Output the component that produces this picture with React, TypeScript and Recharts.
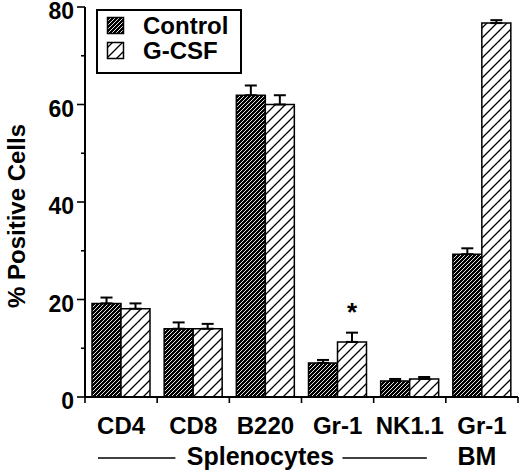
import React from 'react';
import { BarChart, Bar, XAxis, YAxis, ErrorBar, Legend, LabelList } from 'recharts';

if (typeof document !== 'undefined') {
  document.body.style.margin = '0';
}

const categories = ['CD4', 'CD8', 'B220', 'Gr-1', 'NK1.1', 'Gr-1'];
const controlValues = [19.2, 14.0, 61.9, 7.0, 3.3, 29.3];
const controlErrors = [1.2, 1.3, 2.0, 0.6, 0.4, 1.2];
const gcsfValues = [18.1, 14.0, 60.0, 11.3, 3.7, 76.7];
const gcsfErrors = [1.1, 1.0, 1.9, 1.9, 0.4, 0.6];
const gcsfMarks = ['', '', '', '*', '', ''];
const yTicks = [0, 10, 20, 30, 40, 50, 60, 70, 80];
const yLabelTicks = [0, 20, 40, 60, 80];
const groups = [
  { label: 'Splenocytes', start: 0, end: 4 },
  { label: 'BM', start: 5, end: 5 },
];
const seriesNames = ['Control', 'G-CSF'];

const data = categories.map((c, i) => ({
  key: `${c}-${i}`,
  cat: c,
  control: controlValues[i],
  controlErr: [0, controlErrors[i]],
  gcsf: gcsfValues[i],
  gcsfErr: [0, gcsfErrors[i]],
  mark: gcsfMarks[i],
}));

const FONT = '"Liberation Sans", Arial, Helvetica, sans-serif';

const W = 520;
const H = 474;

const YTick = (props: any) => {
  const { x, y, payload } = props;
  const v = payload.value;
  const major = yLabelTicks.includes(v);
  return (
    <g>
      <line x1={x - (major ? 8 : 4)} x2={x} y1={y} y2={y} stroke="#000" strokeWidth={1.6} />
      {major && (
        <text x={x - 11} y={y + 12} textAnchor="end" fontFamily={FONT} fontWeight="bold" fontSize={23} fill="#000">
          {v}
        </text>
      )}
    </g>
  );
};

const XTick = (props: any) => {
  const { x, y, index, payload } = props;
  const band = (payload && payload.offset ? payload.offset * 2 : 72.2);
  const n = categories.length;
  const elems: any[] = [];
  elems.push(
    <line key="tl" x1={x - band / 2} x2={x - band / 2} y1={y} y2={y + 6} stroke="#000" strokeWidth={1.6} />
  );
  if (index === n - 1) {
    elems.push(
      <line key="tr" x1={x + band / 2} x2={x + band / 2} y1={y} y2={y + 6} stroke="#000" strokeWidth={1.6} />
    );
  }
  elems.push(
    <text key="lbl" x={x} y={y + 37} textAnchor="middle" fontFamily={FONT} fontWeight="bold" fontSize={24} fill="#000">
      {categories[index]}
    </text>
  );
  groups.forEach((g, gi) => {
    const mid = Math.floor((g.start + g.end) / 2);
    if (mid !== index) return;
    const cx = x + ((g.start + g.end) / 2 - index) * band - 5;
    const left = x - (index - g.start) * band - band / 2;
    const right = x + (g.end - index) * band + band / 2;
    elems.push(
      <text key={`g${gi}`} x={cx} y={y + 68} textAnchor="middle" fontFamily={FONT} fontWeight="bold" fontSize={25} fill="#000">
        {g.label}
      </text>
    );
    if (g.end > g.start) {
      elems.push(
        <line key={`gl${gi}`} x1={left + 13} x2={cx - 85} y1={y + 61} y2={y + 61} stroke="#000" strokeWidth={1.6} />
      );
      elems.push(
        <line key={`gr${gi}`} x1={cx + 82} x2={right - 19} y1={y + 61} y2={y + 61} stroke="#000" strokeWidth={1.6} />
      );
    }
  });
  return <g>{elems}</g>;
};

const Patterns = ({ prefix }: { prefix: string }) => (
  <defs>
    <pattern id={`${prefix}-control`} patternUnits="userSpaceOnUse" width={4} height={4}>
      <rect x={0} y={0} width={4} height={4} fill="#000" />
      <path d="M-1,1 L1,-1 M0,4 L4,0 M3,5 L5,3" stroke="#fff" strokeWidth={0.9} />
    </pattern>
    <pattern id={`${prefix}-gcsf`} patternUnits="userSpaceOnUse" width={10} height={10}>
      <rect x={0} y={0} width={10} height={10} fill="#fff" />
      <path d="M-2,2 L2,-2 M0,10 L10,0 M8,12 L12,8" stroke="#000" strokeWidth={1.3} />
    </pattern>
  </defs>
);

const LegendContent = (props: any) => {
  const payload = props.payload || [];
  const names = payload.length ? payload.map((p: any) => p.value) : seriesNames;
  const fills = ['lg-control', 'lg-gcsf'];
  return (
    <svg width={146} height={65} style={{ display: 'block' }}>
      <Patterns prefix="lg" />
      <rect x={1} y={1} width={144} height={63} fill="#fff" stroke="#000" strokeWidth={2} />
      {names.map((name: string, i: number) => (
        <g key={name}>
          <rect x={11.5} y={8.5 + i * 25} width={16} height={16} fill={`url(#${fills[i]})`} stroke="#000" strokeWidth={1.5} />
          <text x={47} y={25 + i * 25} fontFamily={FONT} fontWeight="bold" fontSize={24} fill="#000">
            {name}
          </text>
        </g>
      ))}
    </svg>
  );
};

const StarLabel = (props: any) => {
  const { x, y, width, height, index } = props;
  const mark = gcsfMarks[index];
  if (!mark) return null;
  const v = gcsfValues[index];
  const e = gcsfErrors[index];
  const errTop = y - (e * height) / v;
  return (
    <text x={x + width / 2} y={errTop - 12} textAnchor="middle" fontFamily={FONT} fontWeight="bold" fontSize={26} fill="#000">
      {mark}
    </text>
  );
};

export default function App() {
  return (
    <div style={{ width: W, height: H, background: '#fff', position: 'relative' }}>
      <BarChart
        width={W}
        height={H}
        data={data}
        margin={{ top: 7, right: 2, bottom: 0, left: 0 }}
        barCategoryGap={7}
        barGap={0}
      >
        <Patterns prefix="ch" />
        <XAxis
          dataKey="key"
          height={77}
          interval={0}
          tickLine={false}
          tickSize={0}
          tickMargin={0}
          axisLine={{ stroke: '#000', strokeWidth: 2 }}
          tick={<XTick />}
        />
        <YAxis
          width={85}
          domain={[0, 80]}
          ticks={yTicks}
          interval={0}
          tickLine={false}
          tickSize={0}
          tickMargin={0}
          axisLine={{ stroke: '#000', strokeWidth: 2 }}
          tick={<YTick />}
          label={{
            value: '% Positive Cells',
            angle: -90,
            position: 'insideLeft',
            content: (p: any) => {
              const vb = p.viewBox || {};
              const cy = (vb.y ?? 7) + (vb.height ?? 390) / 2 + 14;
              return (
                <text
                  x={16}
                  y={cy}
                  transform={`rotate(-90, 16, ${cy})`}
                  textAnchor="middle"
                  dominantBaseline="central"
                  fontFamily={FONT}
                  fontWeight="bold"
                  fontSize={24}
                  fill="#000"
                >
                  % Positive Cells
                </text>
              );
            },
          }}
        />
        <Legend
          layout="vertical"
          align="center"
          verticalAlign="middle"
          wrapperStyle={{ top: 9, left: 96, width: 146, height: 65 }}
          content={<LegendContent />}
        />
        <Bar dataKey="control" name={seriesNames[0]} fill="url(#ch-control)" stroke="#000" strokeWidth={1.5} isAnimationActive={false}>
          <ErrorBar dataKey="controlErr" width={6} stroke="#000" strokeWidth={2} direction="y" />
        </Bar>
        <Bar dataKey="gcsf" name={seriesNames[1]} fill="url(#ch-gcsf)" stroke="#000" strokeWidth={1.5} isAnimationActive={false}>
          <ErrorBar dataKey="gcsfErr" width={6} stroke="#000" strokeWidth={2} direction="y" />
          <LabelList dataKey="mark" content={<StarLabel />} />
        </Bar>
      </BarChart>
    </div>
  );
}
